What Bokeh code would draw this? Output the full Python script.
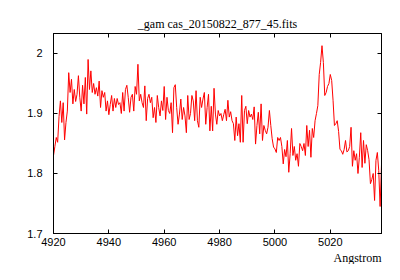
from bokeh.plotting import figure
from bokeh.models import Range1d, LinearAxis, FixedTicker, Title
from bokeh.embed import file_html
from bokeh.resources import INLINE

# Spectrum: start wavelength and dispersion (Angstrom per pixel), flux values
wl_start = 4920.0
wl_step = 0.5
flux_a = [1.830, 1.845, 1.860, 1.852, 1.895, 1.921, 1.885, 1.918, 1.856, 1.885,
          1.904, 1.968, 1.935, 1.957, 1.916, 1.940, 1.920, 1.932, 1.963, 1.927,
          1.904, 1.947, 1.916, 1.960, 1.899, 1.990, 1.940, 1.971, 1.935, 1.950,
          1.932, 1.943, 1.929, 1.954, 1.910, 1.938, 1.927, 1.935, 1.904, 1.921,
          1.898]
flux_b = [1.915, 1.930, 1.904, 1.925, 1.910, 1.925, 1.915, 1.918, 1.900, 1.935,
          1.904, 1.940, 1.947, 1.927, 1.902, 1.927, 1.932, 1.904, 1.945, 1.932,
          1.982, 1.921, 1.932, 1.918, 1.910, 1.946, 1.888, 1.925, 1.932, 1.918,
          1.927, 1.893, 1.910, 1.885, 1.930, 1.910, 1.896, 1.921, 1.905, 1.945]
flux_c = [1.890, 1.927, 1.905, 1.900, 1.918, 1.868, 1.943, 1.948, 1.910, 1.882,
          1.899, 1.924, 1.890, 1.910, 1.896, 1.868, 1.930, 1.890, 1.900, 1.930,
          1.921, 1.888, 1.938, 1.888, 1.877, 1.927, 1.910, 1.924, 1.935, 1.882,
          1.910, 1.932, 1.871, 1.912, 1.871, 1.942, 1.899, 1.882, 1.905, 1.896]
flux_d = [1.900, 1.888, 1.898, 1.907, 1.888, 1.922, 1.894, 1.903, 1.888, 1.883,
          1.855, 1.894, 1.863, 1.883, 1.852, 1.930, 1.852, 1.905, 1.912, 1.883,
          1.905, 1.894, 1.899, 1.890, 1.911, 1.849, 1.880, 1.902, 1.866, 1.916,
          1.855, 1.880, 1.872, 1.866, 1.877, 1.905, 1.880, 1.858, 1.844, 1.841]
flux_e = [1.835, 1.860, 1.855, 1.860, 1.845, 1.816, 1.840, 1.828, 1.855, 1.802,
          1.833, 1.875, 1.830, 1.845, 1.822, 1.833, 1.812, 1.850, 1.845, 1.838,
          1.850, 1.830, 1.880, 1.845, 1.872, 1.827, 1.875, 1.860, 1.888, 1.900,
          1.913, 1.965, 1.985, 2.013, 1.985, 1.930, 1.935, 1.945, 1.950, 1.965]
flux_f = [1.955, 1.922, 1.880, 1.883, 1.888, 1.870, 1.840, 1.838, 1.832, 1.840,
          1.855, 1.836, 1.838, 1.845, 1.877, 1.812, 1.838, 1.822, 1.833, 1.800,
          1.827, 1.868, 1.810, 1.855, 1.817, 1.848, 1.838, 1.823, 1.783, 1.790,
          1.800, 1.755, 1.822, 1.835, 1.805, 1.745, 1.815]

flux = flux_a + flux_b + flux_c + flux_d + flux_e + flux_f
wavelength = [wl_start + i * wl_step for i in range(len(flux))]

x_ticks = [4920, 4940, 4960, 4980, 5000, 5020]
y_ticks = [1.7, 1.8, 1.9, 2.0]
y_tick_labels = {1.7: "1.7", 1.8: "1.8", 1.9: "1.9", 2: "2"}
title_text = "_gam cas_20150822_877_45.fits"
x_label = "Angstrom"

p = figure(width=384, height=264, output_backend="svg", toolbar_location=None,
           x_range=Range1d(4920, 5038.5), y_range=Range1d(1.7, 2.0333),
           x_axis_location=None, y_axis_location=None,
           min_border_left=53, min_border_right=3, min_border_top=33,
           min_border_bottom=30)
p.background_fill_color = "white"
p.border_fill_color = "white"
p.outline_line_color = "black"
p.outline_line_width = 1
p.grid.visible = False

p.title.text = title_text
p.title.align = "center"
p.title.text_font = "Liberation Serif"
p.title.text_font_size = "12px"
p.title.text_font_style = "normal"
p.title.text_color = "black"
p.title.offset = 0
p.title.standoff = 6


def style(ax, labels=True):
    ax.axis_line_color = "black"
    ax.axis_line_width = 1
    ax.major_tick_in = 4
    ax.major_tick_out = 0
    ax.major_tick_line_color = "black"
    ax.minor_tick_line_color = None
    ax.major_label_text_font = "Liberation Sans"
    ax.major_label_text_font_size = "11px"
    ax.major_label_text_color = "black"
    if not labels:
        ax.major_label_standoff = 0
        ax.major_label_text_font_size = "1px"
        ax.major_label_text_alpha = 0


bottom = LinearAxis(ticker=FixedTicker(ticks=x_ticks))
style(bottom)
bottom.major_label_standoff = 4
p.add_layout(bottom, "below")

top = LinearAxis(ticker=FixedTicker(ticks=x_ticks),
                 major_label_overrides={t: "" for t in x_ticks})
style(top, labels=False)
p.add_layout(top, "above")

left = LinearAxis(ticker=FixedTicker(ticks=y_ticks), major_label_overrides=y_tick_labels)
style(left)
left.major_label_standoff = 11
p.add_layout(left, "left")

right = LinearAxis(ticker=FixedTicker(ticks=y_ticks),
                   major_label_overrides={t: "" for t in y_ticks})
style(right, labels=False)
p.add_layout(right, "right")

p.line(wavelength, flux, line_color="red", line_width=1)

xl = Title(text=x_label, align="right", text_font="Liberation Serif",
           text_font_size="12px", text_font_style="normal", text_color="black",
           offset=0, standoff=0)
p.add_layout(xl, "below")

open("out.html", "w").write(file_html(p, INLINE))
